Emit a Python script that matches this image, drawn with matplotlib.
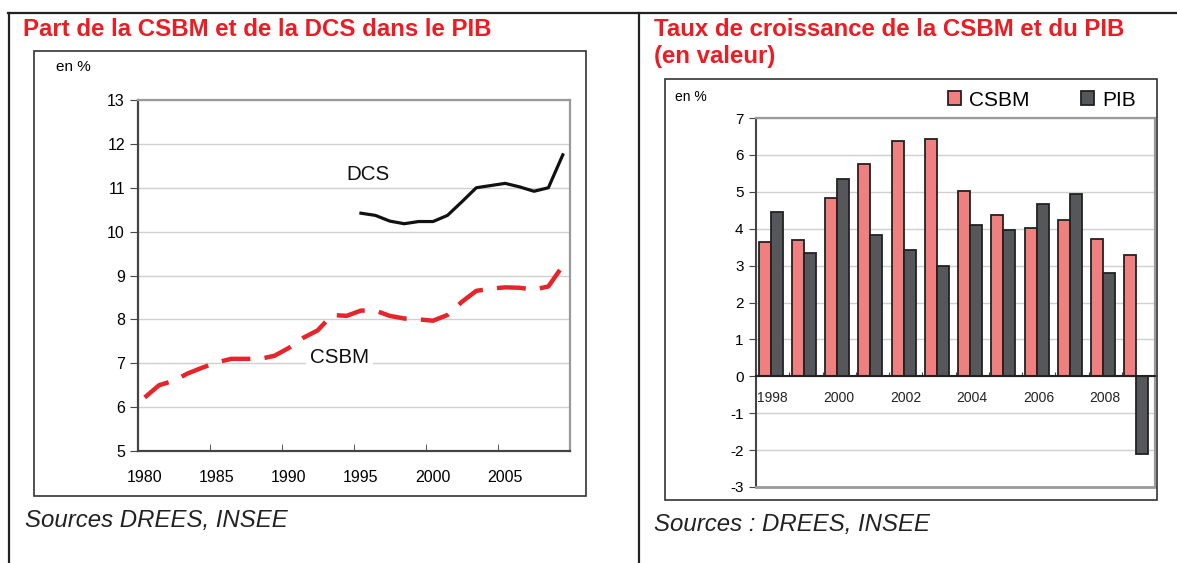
import numpy as np
import matplotlib
matplotlib.use('Agg')  # no display
import matplotlib.pyplot as plt
from matplotlib.patches import Rectangle, Patch
from matplotlib.lines import Line2D

# --- data --- #
years_line = list(range(1980, 2010))
csbm_share = [6.22, 6.5, 6.6, 6.77, 6.9, 7.02, 7.1, 7.1, 7.1, 7.17,
              7.35, 7.58, 7.75, 8.1, 8.08, 8.2, 8.2, 8.08, 8.02, 8.0,
              7.97, 8.1, 8.4, 8.65, 8.7, 8.73, 8.72, 8.68, 8.75, 9.22]
years_dcs = list(range(1995, 2010))
dcs_share = [10.42, 10.37, 10.24, 10.18, 10.23, 10.23, 10.37, 10.68,
             11.0, 11.05, 11.1, 11.02, 10.92, 11.0, 11.75]

years_bar = list(range(1998, 2010))
csbm_growth = [3.63, 3.69, 4.82, 5.75, 6.38, 6.44, 5.03, 4.38, 4.01, 4.23, 3.73, 3.3]
pib_growth = [4.44, 3.35, 5.36, 3.84, 3.41, 2.98, 4.1, 3.96, 4.66, 4.93, 2.81, -2.11]

W, H = 1177, 563
RED = '#ED1C24'
GRID = '#D0D0D0'
NARROW = ['Liberation Sans Narrow', 'Liberation Sans', 'DejaVu Sans']

plt.rcParams['font.family'] = ['Liberation Sans', 'DejaVu Sans']
plt.rcParams['axes.unicode_minus'] = False

fig = plt.figure(figsize=(W / 100, H / 100), dpi=100)


def fx(px):
    return px / W


def fy(py):
    return 1 - py / H


def ftext(px, py, s, **kw):
    fig.text(fx(px), fy(py), s, **kw)


def fbox(x0, y0, x1, y1, **kw):
    fig.add_artist(Rectangle((fx(x0), fy(y1)), fx(x1) - fx(x0), fy(y0) - fy(y1),
                             transform=fig.transFigure, fill=False, **kw))


# outer frame lines
fig.add_artist(Line2D([fx(8), fx(W)], [fy(12.5), fy(12.5)], color='#222222', lw=1.6))
fig.add_artist(Line2D([fx(9), fx(9)], [fy(12.5), 0], color='#222222', lw=1.6))
fig.add_artist(Line2D([fx(639), fx(639)], [fy(12.5), 0], color='#222222', lw=1.6))

# ---------------- left chart ---------------- #
ftext(23, 29, 'Part de la CSBM et de la DCS dans le PIB', color=RED,
      fontsize=17.3, fontweight='bold', va='center')
fbox(34, 51, 586, 496, edgecolor='#333333', lw=1.2)
ftext(56, 67, 'en %', fontsize=11, family=NARROW, va='center')
ftext(25, 521, 'Sources DREES, INSEE', fontsize=17.3, style='italic',
      color='#222222', va='center')

ax1 = fig.add_axes([fx(137.5), fy(451), fx(570) - fx(137.5), fy(100) - fy(451)])
xi = np.arange(len(years_line))
ax1.plot(xi, csbm_share, color='#E8242B', lw=3.2, dashes=(6.5, 3.2), zorder=3)
xd = np.array([years_line.index(y) for y in years_dcs])
ax1.plot(xd, dcs_share, color='#111111', lw=2.3, zorder=3)
ax1.set_xlim(-0.5, len(years_line) - 0.5)
ax1.set_ylim(5, 13)
ax1.set_yticks(range(5, 14))
ax1.yaxis.grid(True, color=GRID, lw=1)
ax1.set_axisbelow(True)
ax1.set_xticks(xi[::5])
ax1.set_xticklabels([str(y) for y in years_line[::5]], family=NARROW, fontsize=11.5)
ax1.set_xticks(np.arange(-0.5, len(years_line) - 0.5, 5), minor=True)
ax1.tick_params(axis='x', which='major', length=0, pad=14)
ax1.tick_params(axis='x', which='minor', direction='in', length=5, color='#444444')
ax1.tick_params(axis='y', length=6, pad=3, color='#444444')
for lab in ax1.get_yticklabels():
    lab.set_family(NARROW)
    lab.set_fontsize(11.5)
for side in ['left', 'bottom']:
    ax1.spines[side].set_color('#444444')
    ax1.spines[side].set_linewidth(1.6)
for side in ['top', 'right']:
    ax1.spines[side].set_color('#9A9A9A')
    ax1.spines[side].set_linewidth(1.6)
ax1.text(15.5, 11.3, 'DCS', fontsize=14.8, ha='center', va='center', color='#111111')
ax1.text(13.5, 7.13, 'CSBM', fontsize=14.8, ha='center', va='center', color='#111111',
         bbox=dict(boxstyle='square,pad=0.2', fc='white', ec='none'), zorder=4)

# ---------------- right chart ---------------- #
ftext(654, 29, 'Taux de croissance de la CSBM et du PIB', color=RED,
      fontsize=17.3, fontweight='bold', va='center')
ftext(654, 57, '(en valeur)', color=RED, fontsize=17.3, fontweight='bold', va='center')
fbox(665, 79, 1157, 500, edgecolor='#333333', lw=1.2)
ftext(675, 97, 'en %', fontsize=10, va='center')
ftext(654, 525, 'Sources : DREES, INSEE', fontsize=17.3, style='italic',
      color='#222222', va='center')

ax2 = fig.add_axes([fx(756), fy(487), fx(1155) - fx(756), fy(118) - fy(487)])
xb = np.arange(len(years_bar))
bw = 0.36
ax2.bar(xb - 0.06 - bw / 2, csbm_growth, bw, color='#F08080', edgecolor='#222222',
        lw=1.3, label='CSBM', zorder=3)
ax2.bar(xb - 0.06 + bw / 2, pib_growth, bw, color='#55575A', edgecolor='#222222',
        lw=1.3, label='PIB', zorder=3)
ax2.set_xlim(-0.5, len(years_bar) - 0.5)
ax2.set_ylim(-3, 7)
ax2.set_yticks(range(-3, 8))
ax2.yaxis.grid(True, color=GRID, lw=1)
ax2.set_axisbelow(True)
ax2.tick_params(axis='y', length=5, pad=4, labelsize=11, color='#444444')
ax2.spines['bottom'].set_position(('data', 0))
ax2.spines['bottom'].set_color('#222222')
ax2.spines['bottom'].set_linewidth(1.5)
ax2.spines['bottom'].set_zorder(4)
ax2.set_xticks(np.arange(-0.5, len(years_bar), 1))
ax2.set_xticklabels([])
ax2.tick_params(axis='x', direction='in', length=3, color='#444444')
ax2.spines['left'].set_color('#444444')
ax2.spines['left'].set_linewidth(1.5)
for side in ['top', 'right']:
    ax2.spines[side].set_color('#9A9A9A')
    ax2.spines[side].set_linewidth(1.6)
ax2.axhline(-3, color='#9A9A9A', lw=2, clip_on=False, zorder=5)
for i, y in enumerate(years_bar):
    if i % 2 == 0:
        ax2.text(i, -0.6, str(y), fontsize=10, ha='center', va='center', color='#222222')

fig.legend(handles=[Patch(fc='#F08080', ec='#222222', lw=1.3, label='CSBM'),
                    Patch(fc='#55575A', ec='#222222', lw=1.3, label='PIB')],
           loc='center', bbox_to_anchor=(fx(1042), fy(100)), ncol=2, frameon=False,
           fontsize=15, handlelength=0.62, handleheight=0.62, handletextpad=0.4,
           columnspacing=2.5, borderpad=0, borderaxespad=0)

fig.savefig('out.png', dpi=100)
